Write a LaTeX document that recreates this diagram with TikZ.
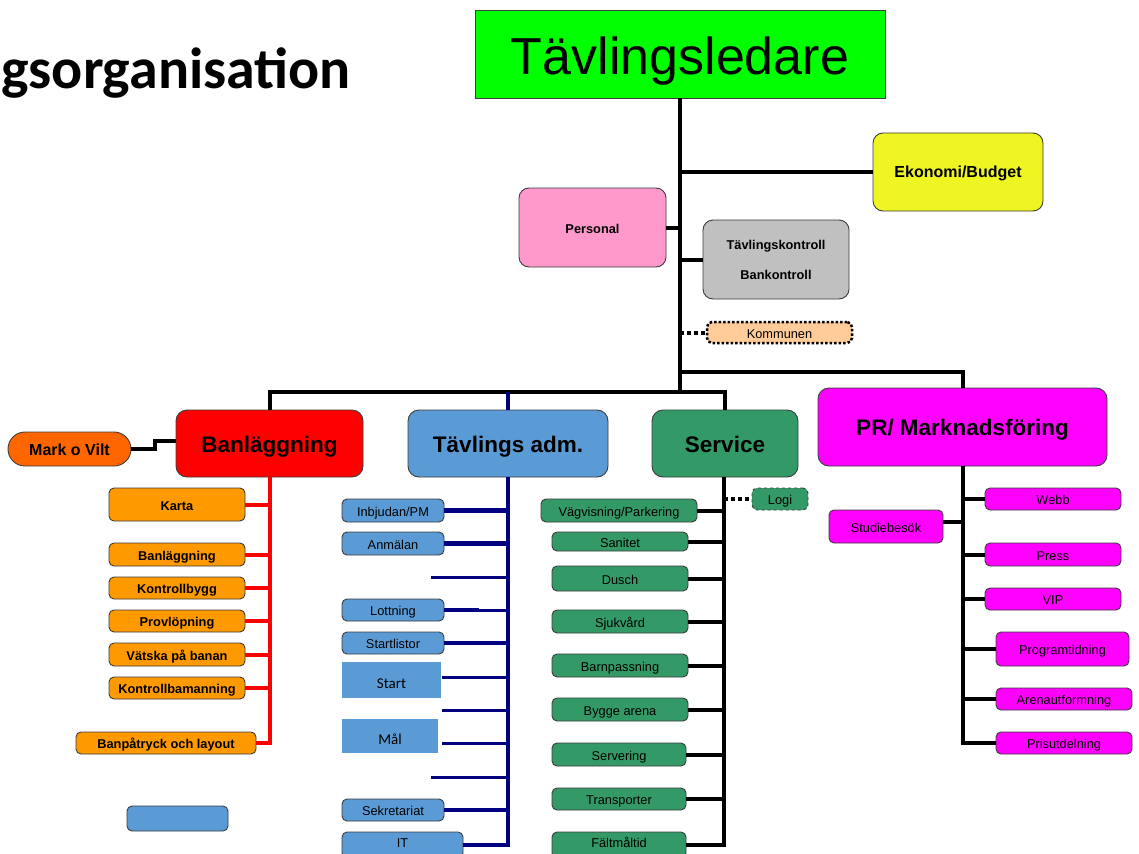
\documentclass[tikz,border=0pt]{standalone}
\usepackage{fontspec}
\setmainfont{Liberation Sans}
\newfontfamily\calfont{Carlito}
\definecolor{cTop}{RGB}{0,255,0}
\definecolor{cEko}{RGB}{238,245,34}
\definecolor{cPink}{RGB}{255,153,204}
\definecolor{cGray}{RGB}{192,192,192}
\definecolor{cPeach}{RGB}{255,204,153}
\definecolor{cRed}{RGB}{255,0,0}
\definecolor{cMov}{RGB}{255,102,0}
\definecolor{cOr}{RGB}{255,153,0}
\definecolor{cBlue}{RGB}{91,155,213}
\definecolor{cNavy}{RGB}{0,0,128}
\definecolor{cGreen}{RGB}{51,153,102}
\definecolor{cMag}{RGB}{255,0,255}
\definecolor{cBord}{RGB}{60,60,60}
\tikzset{
  bx/.style={draw=cBord, line width=0.9pt, rounded corners=5pt, inner sep=0pt, align=center},
  big/.style={bx, rounded corners=11pt, font=\fontsize{22.5}{26}\selectfont\bfseries, text height=17pt, text depth=0pt},
  sm/.style={font=\fontsize{12.8}{14}\selectfont, text height=11pt, text depth=0pt},
  smb/.style={font=\fontsize{12.8}{14}\selectfont\bfseries, text height=11pt, text depth=0pt},
  conn/.style={line width=4pt},
  rconn/.style={line width=4pt, draw=cRed},
  nconn/.style={line width=4.5pt, draw=cNavy},
}
\begin{document}
\begin{tikzpicture}[x=1pt,y=-1pt]
\useasboundingbox (0,0) rectangle (1139,853);
\clip (0,0) rectangle (1139,853);
\fill[white] (0,0) rectangle (1139,853);

% title
\node[anchor=base west, inner sep=0pt, font=\calfont\bfseries\fontsize{58}{60}\selectfont] (title) at (1,89) {gsorganisation};

% top level
\node[bx, rounded corners=0pt, fill=cTop, minimum width=410pt, minimum height=88pt, font=\fontsize{52}{56}\selectfont, text height=42pt, text depth=0pt] (top) at (680,54) {Tävlingsledare};
\node[bx, rounded corners=10pt, fill=cEko, minimum width=170pt, minimum height=78pt, font=\fontsize{16}{18}\selectfont\bfseries, text height=11pt, text depth=0pt] (eko) at (958,172) {Ekonomi/Budget};
\node[bx, rounded corners=10pt, fill=cPink, minimum width=147pt, minimum height=79pt, smb] (pers) at (592.5,227.5) {Personal};
\node[bx, rounded corners=10pt, fill=cGray, minimum width=146pt, minimum height=79pt, font=\fontsize{12.8}{30}\selectfont\bfseries] (tk) at (776,259.5) {Tävlingskontroll\\Bankontroll};
\node[bx, draw=black, line width=2.5pt, dash pattern=on 2.5pt off 2pt, rounded corners=5pt, fill=cPeach, minimum width=145pt, minimum height=21pt, sm] (komm) at (779.5,332.5) {Kommunen};

% main branches
\node[big, fill=cRed, minimum width=187pt, minimum height=67pt] (banl) at (269.5,443.5) {Banläggning};
\node[bx, rounded corners=17pt, fill=cMov, minimum width=123pt, minimum height=34pt, font=\fontsize{16}{18}\selectfont\bfseries, text height=12pt, text depth=0pt] (mov) at (69.5,449) {Mark o Vilt};
\node[big, fill=cBlue, minimum width=200pt, minimum height=67pt] (adm) at (508,443.5) {Tävlings adm.};
\node[big, fill=cGreen, minimum width=146pt, minimum height=67pt] (svc) at (725,443.5) {Service};
\node[big, fill=cMag, minimum width=289pt, minimum height=78pt] (pr) at (962.5,427) {PR/ Marknadsföring};

% connectors top
\coordinate (bar) at (680,392);
\coordinate (prj) at (680,372);
\draw[conn] (top.south) -- (bar);
\draw[conn] (top.south |- eko.west) -- (eko.west);
\draw[conn] (pers.east) -- (pers.east -| top.south);
\draw[conn] (tk.west -| top.south) -- (tk.west);
\draw[line width=4pt, dash pattern=on 4pt off 3pt] (komm.west -| top.south) -- (komm.west);
\draw[conn] (prj) -| (pr.north);
\draw[conn] (banl.north) -- (banl.north |- bar) -- (svc.north |- bar) -- (svc.north);
\draw[nconn] (adm.north |- bar) -- (adm.north);
\draw[conn] (mov.east) -- ++(24,0) |- ([yshift=2.5pt]banl.west);

% Banläggning column
\node[bx, fill=cOr, minimum width=136pt, minimum height=33pt, smb] (karta) at (177,504.5) {Karta};
\node[bx, fill=cOr, minimum width=136pt, minimum height=23pt, smb] (b1) at (177,554.5) {Banläggning};
\node[bx, fill=cOr, minimum width=136pt, minimum height=22pt, smb] (b2) at (177,588) {Kontrollbygg};
\node[bx, fill=cOr, minimum width=136pt, minimum height=22pt, smb] (b3) at (177,621) {Provlöpning};
\node[bx, fill=cOr, minimum width=136pt, minimum height=23pt, smb] (b4) at (177,654.5) {Vätska på banan};
\node[bx, fill=cOr, minimum width=136pt, minimum height=22pt, smb] (b5) at (177,688) {Kontrollbamanning};
\node[bx, fill=cOr, minimum width=180pt, minimum height=22pt, smb] (b6) at (166,743) {Banpåtryck och layout};
\coordinate (rb) at (269.5,700);
\draw[rconn] (banl.south) -- (banl.south |- b6.east) -- (b6.east);
\foreach \n in {karta,b1,b2,b3,b4,b5} \draw[rconn] (\n.east) -- (\n.east -| rb);

% Tävlings adm. column
\node[bx, fill=cBlue, minimum width=102pt, minimum height=23pt, sm] (inb) at (393,510.5) {Inbjudan/PM};
\node[bx, fill=cBlue, minimum width=102pt, minimum height=23pt, sm] (anm) at (393,543.5) {Anmälan};
\node[bx, fill=cBlue, minimum width=102pt, minimum height=22pt, sm] (lot) at (393,610) {Lottning};
\node[bx, fill=cBlue, minimum width=102pt, minimum height=22pt, sm] (stl) at (393,643) {Startlistor};
\node[fill=cBlue, inner sep=0pt, minimum width=99pt, minimum height=36pt, font=\calfont\fontsize{15}{17}\selectfont, text height=16pt, text depth=0pt] (start) at (391.5,680) {Start};
\node[fill=cBlue, inner sep=0pt, minimum width=96pt, minimum height=34pt, font=\calfont\fontsize{15}{17}\selectfont, text height=16pt, text depth=0pt] (mal) at (390,736) {Mål};
\node[bx, fill=cBlue, minimum width=102pt, minimum height=22pt, sm] (sek) at (393,810) {Sekretariat};
\node[bx, fill=cBlue, minimum width=121pt, minimum height=26pt, sm, text height=4pt] (it) at (402.5,845) {IT};
\node[bx, fill=cBlue, minimum width=101pt, minimum height=25pt] (lone) at (177.5,818.5) {};
\coordinate (nb) at (508,700);
\coordinate (e1) at (431,577);
\coordinate (e2) at (442,710);
\coordinate (e3) at (431,777);
\draw[nconn] (adm.south) -- (adm.south |- it.east) -- (it.east);
\foreach \n in {inb,anm,stl,sek} \draw[nconn] (\n.east) -- (\n.east -| nb);
\draw[nconn] (lot.east) -- ++(35,0);
\draw[line width=3pt, cNavy] (lot.east) -- (lot.east -| nb);
\draw[line width=3pt, cNavy] ([xshift=1pt]start.east |- 0,677) -- (nb |- 0,677);
\draw[line width=3pt, cNavy] (e2) -- (e2 -| nb);
\draw[line width=3pt, cNavy] (e1) -- (e1 -| nb);
\draw[line width=3pt, cNavy] ([xshift=4pt]mal.east |- 0,743) -- (nb |- 0,743);
\draw[line width=3pt, cNavy] (e3) -- (e3 -| nb);

% Service column
\node[bx, fill=cGreen, minimum width=156pt, minimum height=23pt, sm] (vag) at (619,510.5) {Vägvisning/Parkering};
\node[bx, fill=cGreen, minimum width=136pt, minimum height=19pt, sm] (san) at (620,541.5) {Sanitet};
\node[bx, fill=cGreen, minimum width=136pt, minimum height=25pt, sm] (dus) at (620,578.5) {Dusch};
\node[bx, fill=cGreen, minimum width=136pt, minimum height=23pt, sm] (sju) at (620,621.5) {Sjukvård};
\node[bx, fill=cGreen, minimum width=136pt, minimum height=23pt, sm] (bar2) at (620,665.5) {Barnpassning};
\node[bx, fill=cGreen, minimum width=136pt, minimum height=23pt, sm] (byg) at (620,709.5) {Bygge arena};
\node[bx, fill=cGreen, minimum width=134pt, minimum height=23pt, sm] (ser) at (619,754.5) {Servering};
\node[bx, fill=cGreen, minimum width=134pt, minimum height=22pt, sm] (tra) at (619,799) {Transporter};
\node[bx, fill=cGreen, minimum width=134pt, minimum height=26pt, sm, text height=4pt] (fal) at (619,845) {Fältmåltid};
\node[bx, dashed, fill=cGreen, minimum width=56pt, minimum height=22pt, sm] (logi) at (780,499) {Logi};
\coordinate (sb) at (724,700);
\draw[conn] (svc.south -| sb) -- (sb |- fal.east) -- (fal.east);
\foreach \n in {vag,san,dus,sju,bar2,byg,ser,tra} \draw[conn] (\n.east) -- (\n.east -| sb);
\draw[line width=4pt, dash pattern=on 4pt off 3pt] (logi.west -| sb) -- (logi.west);

% PR column
\node[bx, fill=cMag, minimum width=114pt, minimum height=33pt, sm] (stu) at (886,526.5) {Studiebesök};
\node[bx, fill=cMag, minimum width=136pt, minimum height=22pt, sm] (web) at (1053,499) {Webb};
\node[bx, fill=cMag, minimum width=136pt, minimum height=23pt, sm] (pre) at (1053,554.5) {Press};
\node[bx, fill=cMag, minimum width=136pt, minimum height=22pt, sm] (vip) at (1053,599) {VIP};
\node[bx, fill=cMag, minimum width=133pt, minimum height=34pt, sm] (prg) at (1062.5,649) {Programtidning};
\node[bx, fill=cMag, minimum width=136pt, minimum height=22pt, sm] (are) at (1064,699) {Arenautformning};
\node[bx, fill=cMag, minimum width=136pt, minimum height=22pt, sm] (pris) at (1064,743) {Prisutdelning};
\draw[conn] (pr.south) |- (pris.west);
\foreach \n in {web,pre,vip,prg,are} \draw[conn] (\n.west) -- (\n.west -| pr.south);
\draw[conn] ([yshift=5pt]stu.east) -- ([yshift=5pt]stu.east -| pr.south);
\end{tikzpicture}
\end{document}
